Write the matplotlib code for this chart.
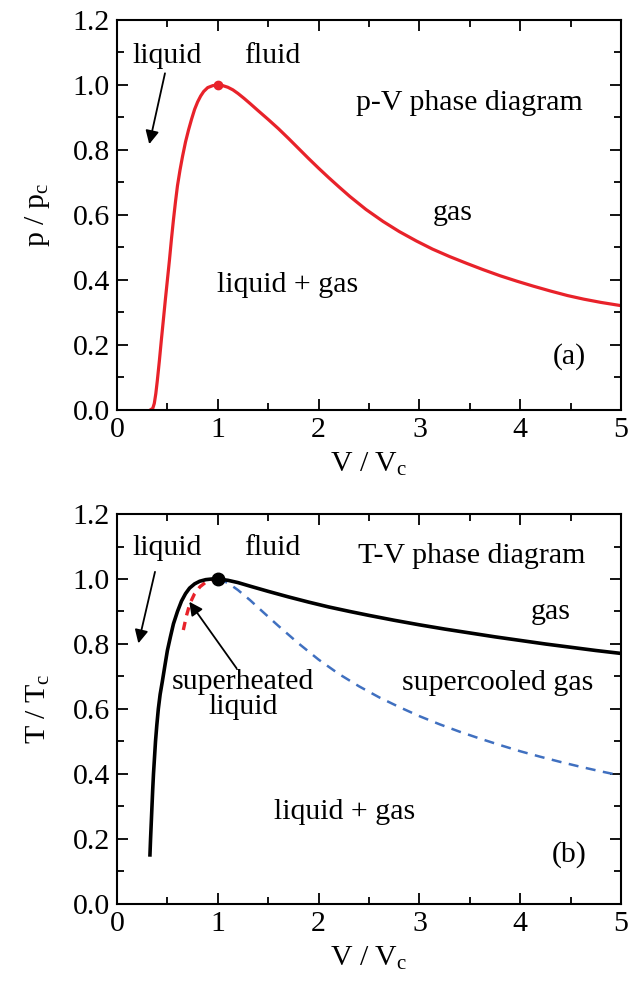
import matplotlib
matplotlib.use("Agg")
import matplotlib.pyplot as plt
from matplotlib.ticker import MultipleLocator, FormatStrFormatter

plt.rcParams['font.family'] = ['Liberation Serif', 'DejaVu Serif']
plt.rcParams['mathtext.fontset'] = 'custom'
plt.rcParams['mathtext.rm'] = 'Liberation Serif'
plt.rcParams['mathtext.it'] = 'Liberation Serif:italic'

# ---- data ----
# (a) p-V coexistence curve
pv_V = [0.33, 0.355, 0.37, 0.385, 0.40, 0.42, 0.44, 0.46, 0.48, 0.50, 0.52,
        0.54, 0.56, 0.58, 0.60, 0.625, 0.65, 0.68, 0.71, 0.74, 0.77, 0.80,
        0.83, 0.86, 0.90, 0.95, 1.0,
        1.05, 1.1, 1.15, 1.2, 1.26, 1.32, 1.4, 1.5, 1.6, 1.7, 1.8, 1.9, 2.0,
        2.1, 2.2, 2.31, 2.47, 2.64, 2.8, 2.97, 3.13, 3.30, 3.47, 3.63, 3.8,
        3.97, 4.13, 4.30, 4.47, 4.63, 4.8, 5.0]
pv_p = [0.0, 0.005, 0.02, 0.05, 0.09, 0.15, 0.215, 0.277, 0.34, 0.40, 0.46,
        0.525, 0.585, 0.64, 0.69, 0.738, 0.78, 0.825, 0.862, 0.895, 0.925,
        0.948, 0.966, 0.980, 0.992, 0.998, 1.0,
        0.998, 0.993, 0.985, 0.974, 0.959, 0.943, 0.921, 0.894, 0.866, 0.836,
        0.805, 0.774, 0.744, 0.715, 0.687, 0.657, 0.617, 0.580, 0.549, 0.520,
        0.495, 0.472, 0.451, 0.432, 0.413, 0.396, 0.381, 0.366, 0.352, 0.341,
        0.331, 0.321]

# (b) T-V coexistence curve
tv_V = [0.327, 0.333, 0.340, 0.347, 0.354, 0.362, 0.372, 0.382, 0.395, 0.41,
        0.428, 0.45, 0.475, 0.50, 0.53, 0.56, 0.60, 0.64, 0.68, 0.72, 0.77,
        0.82, 0.88, 0.94, 1.0,
        1.1, 1.2, 1.32, 1.5, 1.7, 1.9, 2.1, 2.31, 2.5, 2.75, 3.0, 3.25, 3.5,
        3.75, 4.0, 4.25, 4.5, 4.75, 5.0]
tv_T = [0.151, 0.20, 0.25, 0.30, 0.35, 0.40, 0.45, 0.50, 0.55, 0.60,
        0.645, 0.685, 0.733, 0.780, 0.822, 0.862, 0.900, 0.932, 0.955, 0.972,
        0.985, 0.993, 0.998, 1.0, 1.0,
        0.996, 0.989, 0.978, 0.962, 0.945, 0.929, 0.914, 0.900, 0.888, 0.873,
        0.859, 0.846, 0.834, 0.822, 0.811, 0.800, 0.790, 0.780, 0.771]

# superheated-liquid limit (red dashed)
sh_V = [0.658, 0.69, 0.724, 0.77, 0.823, 0.88, 0.94, 1.0]
sh_T = [0.843, 0.888, 0.925, 0.955, 0.976, 0.990, 0.998, 1.0]

# supercooled-gas limit (blue dashed)
sc_V = [1.0, 1.1, 1.2, 1.32, 1.45, 1.6, 1.8, 2.0, 2.2, 2.4, 2.6, 2.8, 3.0,
        3.2, 3.4, 3.6, 3.8, 4.0, 4.2, 4.4, 4.6, 4.8, 5.0]
sc_T = [1.0, 0.988, 0.966, 0.935, 0.898, 0.856, 0.802, 0.752, 0.708, 0.670,
        0.636, 0.606, 0.578, 0.553, 0.530, 0.509, 0.489, 0.470, 0.453, 0.437,
        0.422, 0.408, 0.395]

crit_V = 1.0
crit_y = 1.0

RED = '#e8222a'
BLUE = '#4070c0'
FS = 21.5

fig = plt.figure(figsize=(6.4, 9.9), dpi=100)
ax1 = fig.add_axes([0.1828, 0.5859, 0.7875, 0.3939])
ax2 = fig.add_axes([0.1828, 0.0869, 0.7875, 0.3939])

for ax in (ax1, ax2):
    ax.set_xlim(0, 5)
    ax.set_ylim(0, 1.2)
    ax.xaxis.set_major_locator(MultipleLocator(1))
    ax.xaxis.set_minor_locator(MultipleLocator(0.5))
    ax.yaxis.set_major_locator(MultipleLocator(0.2))
    ax.yaxis.set_minor_locator(MultipleLocator(0.1))
    ax.tick_params(which='both', direction='in', top=True, right=True,
                   labelsize=FS, width=1.3, pad=5)
    ax.tick_params(which='major', length=8)
    ax.tick_params(which='minor', length=5)
    ax.yaxis.set_major_formatter(FormatStrFormatter('%.1f'))
    for s in ax.spines.values():
        s.set_linewidth(1.5)
    ax.set_xlabel(r'V / V$_\mathrm{c}$', fontsize=FS, labelpad=6)

arrow_kw = dict(arrowstyle='-|>', color='black', lw=1.3,
                mutation_scale=20, shrinkA=0, shrinkB=0)

# ---- panel (a) ----
ax1.plot(pv_V, pv_p, color=RED, lw=2.3, solid_joinstyle='round')
ax1.plot([crit_V], [crit_y], 'o', color=RED, ms=6)
ax1.set_ylabel(r'p / p$_\mathrm{c}$', fontsize=FS, labelpad=15)
ax1.text(0.5, 1.09, 'liquid', fontsize=FS, ha='center', va='center')
ax1.annotate('', xy=(0.32, 0.818), xytext=(0.476, 1.036), arrowprops=arrow_kw)
ax1.text(1.54, 1.09, 'fluid', fontsize=FS, ha='center', va='center')
ax1.text(3.5, 0.945, 'p-V phase diagram', fontsize=FS, ha='center', va='center')
ax1.text(3.33, 0.606, 'gas', fontsize=FS, ha='center', va='center')
ax1.text(1.69, 0.385, 'liquid + gas', fontsize=FS, ha='center', va='center')
ax1.text(4.49, 0.163, '(a)', fontsize=FS, ha='center', va='center')

# ---- panel (b) ----
ax2.plot(sc_V, sc_T, color=BLUE, lw=1.8, ls=(0, (4, 3)))
ax2.plot(sh_V, sh_T, color=RED, lw=2.4, ls=(0, (2.5, 2)))
ax2.plot(tv_V, tv_T, color='black', lw=2.6, solid_joinstyle='round')
ax2.plot([crit_V], [crit_y], 'o', color='black', ms=9)
ax2.set_ylabel(r'T / T$_\mathrm{c}$', fontsize=FS, labelpad=15)
ax2.text(0.5, 1.095, 'liquid', fontsize=FS, ha='center', va='center')
ax2.annotate('', xy=(0.212, 0.802), xytext=(0.377, 1.022), arrowprops=arrow_kw)
ax2.text(1.54, 1.095, 'fluid', fontsize=FS, ha='center', va='center')
ax2.text(3.52, 1.07, 'T-V phase diagram', fontsize=FS, ha='center', va='center')
ax2.text(4.3, 0.898, 'gas', fontsize=FS, ha='center', va='center')
ax2.text(3.78, 0.68, 'supercooled gas', fontsize=FS, ha='center', va='center')
ax2.text(1.25, 0.645, 'superheated\nliquid', fontsize=FS, ha='center',
         va='center', linespacing=0.95)
ax2.annotate('', xy=(0.717, 0.930), xytext=(1.187, 0.725), arrowprops=arrow_kw)
ax2.text(2.26, 0.283, 'liquid + gas', fontsize=FS, ha='center', va='center')
ax2.text(4.49, 0.151, '(b)', fontsize=FS, ha='center', va='center')

fig.savefig('out.png', dpi=100)
